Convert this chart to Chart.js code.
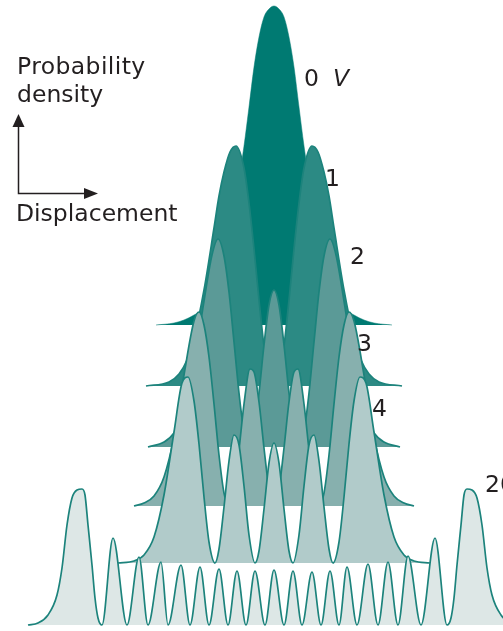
<!DOCTYPE html>
<html>
<head>
<meta charset="utf-8">
<script src="https://cdn.jsdelivr.net/npm/chart.js@4"></script>
<style>
  body { margin: 0; background: #fff; }
  #wrap { position: relative; width: 503px; height: 631px; overflow: hidden; }
  .lbl { position: absolute; font-family: "DejaVu Sans", sans-serif; font-size: 23.5px; line-height: 1; color: #231f20; white-space: nowrap; }
</style>
</head>
<body>
<div id="wrap">
  <canvas id="grafico"></canvas>
  <div class="lbl" style="left:17px; top:55px; letter-spacing:0.4px;">Probability</div>
  <div class="lbl" style="left:17px; top:83px;">density</div>
  <div class="lbl" style="left:16px; top:202px;">Displacement</div>
  <div class="lbl" style="left:304px; top:67px;">0</div>
  <div class="lbl" style="left:333px; top:67px; font-style:italic;">V</div>
  <div class="lbl" style="left:325px; top:167px;">1</div>
  <div class="lbl" style="left:350px; top:245px;">2</div>
  <div class="lbl" style="left:357px; top:332px;">3</div>
  <div class="lbl" style="left:372px; top:397px;">4</div>
  <div class="lbl" style="left:485px; top:473px;">20</div>
</div>
<script>
// Densidad de probabilidad del oscilador armónico, niveles v = 0..4 y 20

// desplazamiento de cada nivel (vertical) y colores de relleno
const niveles = ["0", "1", "2", "3", "4", "20"];
const offsetNivel = [306, 245, 184, 125, 68, 6];
const rellenos = ["#007a72", "#2c8a84", "#5b9a97", "#87b0ae", "#b1cbca", "#dde7e6"];

// v = 0
const x0 = [-118,-100,-90,-80,-70,-60,-50,-40,-35,-30,-25,-20,-15,-10,-5,0,5,10,15,20,25,30,35,40,50,60,70,80,90,100,118];
const d0 = [0,2,5,10,17,34,68,116,146,179,218,258,288,308,316,319,316,308,288,258,218,179,146,116,68,34,17,10,5,2,0];

// v = 1
const x1 = [-128,-105,-95,-87,-80,-70,-60,-55,-50,-44,-38,-30,-25,-20,-15,-10,-5,0,5,10,15,20,25,30,38,44,50,55,60,70,80,87,95,105,128];
const d1 = [0,4,12,26,48,96,158,190,214,234,240,218,183,137,86,40,10,0,10,40,86,137,183,218,240,234,214,190,158,96,48,26,12,4,0];

// v = 2
const x2 = [-126,-110,-100,-90,-80,-70,-62,-56,-50,-45,-40,-35,-30,-25,-20,-15,-10,-5,0,5,10,15,20,25,30,35,40,45,50,56,62,70,80,90,100,110,126];
const d2 = [0,5,14,35,82,146,192,208,191,155,105,54,15,0,15,54,102,142,157,142,102,54,15,0,15,54,105,155,191,208,192,146,82,35,14,5,0];

// v = 3
const x3 = [-140,-130,-120,-110,-100,-90,-80,-75,-70,-65,-60,-55,-50,-45,-40,-35,-30,-24,-20,-15,-10,-5,0,5,10,15,20,24,30,35,40,45,50,55,60,65,70,75,80,90,100,110,120,130,140];
const d3 = [0,3,10,29,69,131,185,194,181,149,102,51,13,0,17,56,102,137,134,104,58,17,0,17,58,104,134,137,102,56,17,0,13,51,102,149,181,194,185,131,69,29,10,3,0];

// v = 4
const x4 = [-156,-140,-130,-120,-110,-100,-92,-86,-80,-75,-70,-65,-59,-55,-50,-45,-40,-35,-30,-25,-19,-15,-10,-5,0,5,10,15,19,25,30,35,40,45,50,55,59,65,70,75,80,86,92,100,110,120,130,140,156];
const d4 = [0,2,8,26,68,131,180,186,162,119,66,21,0,14,56,102,128,118,77,28,0,12,54,100,120,100,54,12,0,28,77,118,128,102,56,14,0,21,66,119,162,186,180,131,68,26,8,2,0];

// v = 20
const x20 = [-246,-236,-226,-217,-212,-207,-202,-197,-192,-189,-186,-182,-179,-176,-172,-161,-147,-135,-126,-113,-106,-93,-84,-74,-65,-55,-46,-37,-28,-19,-9,0,10,19,28,38,47,56,65,73,83,94,104,114,124,134,147,161,173,177,180,183,187,190,193,198,203,208,213,218,227,237,247];
const d20 = [0,2,10,30,57,100,127,135,136,130,100,60,27,7,0,87,0,68,0,63,0,60,0,58,0,56,0,54,0,54,0,55,0,54,0,53,0,54,0,58,0,61,0,63,0,69,0,87,0,7,27,60,100,130,136,135,127,100,57,30,10,2,0];

const xs = [x0, x1, x2, x3, x4, x20];
const ds = [d0, d1, d2, d3, d4, d20];

const datasets = niveles.map((nombre, i) => ({
    label: "v = " + nombre,
    data: xs[i].map((x, k) => ({ x: x, y: offsetNivel[i] + ds[i][k] })),
    backgroundColor: rellenos[i],
    borderColor: i === 0 ? rellenos[0] : "#1c837c",
    borderWidth: i === 0 ? 0.5 : 1.7,
    fill: { value: offsetNivel[i] },
    cubicInterpolationMode: "monotone",
    pointRadius: 0,
    order: niveles.length - i   // el nivel 0 queda al fondo
}));

// flechas de los ejes
const flechas = {
    id: "flechas",
    afterDraw(chart) {
        const c = chart.ctx;
        c.save();
        c.strokeStyle = "#231f20";
        c.fillStyle = "#231f20";
        c.lineWidth = 1.5;
        c.beginPath();
        c.moveTo(18.5, 125);
        c.lineTo(18.5, 193.5);
        c.lineTo(87, 193.5);
        c.stroke();
        c.beginPath();
        c.moveTo(18.5, 114);
        c.lineTo(12.5, 127);
        c.lineTo(24.5, 127);
        c.closePath();
        c.fill();
        c.beginPath();
        c.moveTo(98, 193.5);
        c.lineTo(84, 188);
        c.lineTo(84, 199);
        c.closePath();
        c.fill();
        c.restore();
    }
};

new Chart(document.getElementById("grafico"), {
    type: "line",
    data: { datasets: datasets },
    options: {
        responsive: true,
        maintainAspectRatio: false,
        animation: false,
        layout: { padding: 0 },
        scales: {
            x: { type: "linear", min: -274, max: 229, display: false },
            y: { min: 0, max: 631, display: false }
        },
        plugins: {
            legend: { display: false },
            tooltip: { enabled: false }
        }
    },
    plugins: [flechas]
});
</script>
</body>
</html>
